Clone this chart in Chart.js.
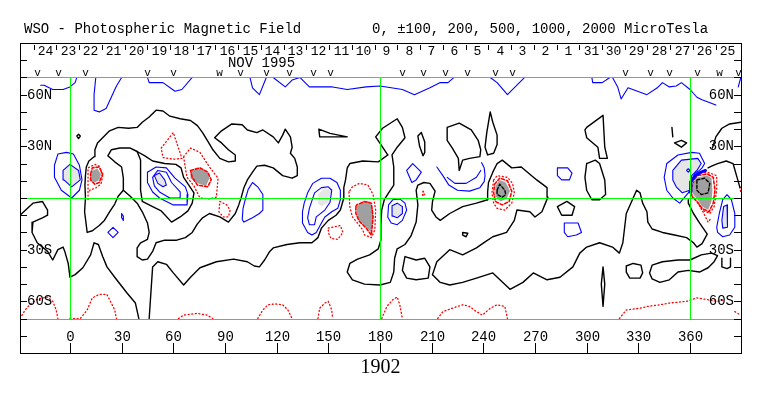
<!DOCTYPE html>
<html>
<head>
<meta charset="utf-8">
<title>WSO - Photospheric Magnetic Field</title>
<script src="https://cdn.jsdelivr.net/npm/chart.js@4.4.1/dist/chart.umd.min.js"></script>
<style>
html, body { margin: 0; padding: 0; background: #fff; }
#wso { display: block; }
</style>
</head>
<body>
<canvas id="wso" width="763" height="396"></canvas>
<script>
// WSO synoptic map, CR 1902: contours as [lon, lat, lon, lat, ...] (Carrington lon / latitude)

var LON_LABELS = [0, 30, 60, 90, 120, 150, 180, 210, 240, 270, 300, 330, 360];
var LAT_LABEL_VAL = [60, 30, -30, -60];
var LAT_LABEL_TXT = ["60N", "30N", "30S", "60S"];
var GRID_LAT = [70, 0, -70];
var GRID_LON = [0, 180, 360];

var DAY_NUM = [24, 23, 22, 21, 20, 19, 18, 17, 16, 15, 14, 13, 12, 11, 10, 9, 8, 7, 6, 5, 4, 3, 2, 1, 31, 30, 29, 28, 27, 26, 25];
var DAY_LON = [-14.5, -1.3, 11.9, 25.1, 38.3, 51.5, 64.7, 77.9, 91.1, 104.3, 117.5, 130.7, 143.9, 157.1, 170.3, 183.5,
               196.7, 209.9, 223.1, 236.3, 249.5, 262.7, 275.9, 289.1, 302.3, 315.5, 328.7, 341.9, 355.1, 368.3, 381.5];
var OBS_LON = [-19, -7, 9, 45, 60, 86.5, 99, 114, 127, 141, 151, 193, 205, 217.5, 230.5, 246.5, 256.5, 322, 337, 348, 364, 377, 388];
var OBS_MARK = ["v", "v", "v", "v", "v", "w", "v", "v", "v", "v", "v", "v", "v", "v", "v", "v", "v", "v", "v", "v", "v", "w", "v"];

// 中性線 (0)
var BLACK_LINES = [
    [9,0, 8.7,7.5, 9,13, 9.5,18, 11,21.5, 14,24, 14.5,28, 16,32, 19,35, 23,39, 28,41, 34,40.5, 39,41, 42,44, 46,47, 50,51,
     54,50.5, 58,47.5, 64,46, 70,45, 74,42, 77,38, 80,33, 83,28, 87,23, 92,21, 96,21.5, 96,25, 92,28, 88,32, 84,35, 88,39,
     94,43, 100,42.5, 103,39.5, 108.5,38, 112,39.5, 118,35.5, 121,32, 123.5,36.5, 125,40, 128,35.5, 129,29.5, 128,26,
     130.5,23, 132,18, 132,13, 129,11.5, 123.5,13, 118,17.5, 113,19, 108.5,18.5, 106,15, 103,10.5, 101,6, 99.5,0.5, 98,-4,
     96,-9, 92,-14, 87,-11, 81,-9, 77,-11.5, 74,-15, 71,-20, 67,-23, 62,-24.5, 55,-24.5, 50,-26, 48,-31, 45,-35.5, 42,-36,
     39,-34, 39,-29, 41,-26, 45,-24, 46,-20, 45,-14.5, 42,-8, 39,-3, 35,1, 31,4.5, 31,11.5, 30,18, 26,21, 22,24.5, 24,28,
     29,29, 35,29, 39,27],
    [9,0, 8.5,-8, 10,-20, 13,-19, 17,-16, 20,-13, 23,-8, 26,-3.5, 28,1, 31,4.5],
    [39,27, 41,22, 41,13, 41,4.5, 42,-2, 48,-5, 53,-7.5, 59,-14, 64,-11, 68.5,-7.5, 71,-3, 72,3, 69,7.5, 66,12, 64.5,17.5,
     61.5,19.5, 55,20, 48,21.5, 43.5,24.5, 39,27],
    [-29,-10, -21.5,-3, -16,-2, -13,-7, -13,-10, -16,-11.5, -21.5,-14, -22,-20, -19,-26, -13,-31, -10,-36, -7,-30, -4,-28.5,
     -3,-31, -1,-38, 0,-46, 3,-44.5, 7.5,-40.5, 12,-33, 14,-26, 16.5,-27, 19,-34, 21.5,-40, 26,-46, 33,-55, 38,-61, 40,-70],
    [46,-70, 48,-40, 51,-37, 56,-38.5, 60,-43.5, 66,-50.5, 70,-46, 75.5,-40.5, 85,-37, 95,-35.5, 103,-37, 107,-39.5, 110,-40,
     113,-36, 116,-31, 118,-29, 126,-27, 133.5,-26, 140.5,-26, 144,-23, 146,-17.5, 150,-13, 154.5,-10, 157,-7, 159,0, 159,6,
     160,10.5, 161,17.5, 162.5,20, 170,21.5, 179,21, 184.5,25],
    [184.5,25, 181.5,29.5, 177.5,35.5, 181.5,40.5, 190,46, 193,41, 194.5,35, 190,29.5, 187,25, 188,18, 188,7.5, 185,3,
     182.5,-1, 181,-7, 180.5,-15.5, 180.5,-24.5, 179,-29.5, 174,-33, 167,-35.5, 162.5,-38, 161,-43, 164,-47.5, 171,-50,
     180,-50.5, 186,-49, 188,-43, 188.5,-35, 190,-29.5, 194.5,-27, 198,-22, 201,-14, 202,-4, 201,4.5, 202,7.5, 205.5,9,
     209,8.5, 212,4, 210.5,-2, 210,-7, 212.5,-11, 215,-13, 220.5,-9, 228,-5, 236,-3, 242.5,-1],
    [193,-42, 194.5,-34, 201,-36, 206,-35, 209,-40, 208,-46.5, 201,-47.5, 195.5,-46.5, 193,-42],
    [210.5,-44.5, 213,-37, 220.5,-30, 228,-33, 236,-29, 241,-25.5, 245.5,-22.5, 253.5,-20, 258,-13, 259.5,-7, 267,-8, 270,-11,
     274,-8, 277.5,0.5, 277,6, 271,10.5, 262,18, 256.5,17.5, 251,22, 248,20, 245.5,15, 243,9, 242.5,3.5, 242.5,-1],
    [210.5,-44.5, 215,-49, 220.5,-50.5, 228,-49, 236,-46.5, 245.5,-43.5, 255.5,-53, 263,-49, 269,-43.5, 277,-47.5, 284.5,-46,
     292,-40, 296,-32, 300,-28.5, 307.5,-26, 315,-28.5, 319,-32, 321,-26, 323,-9, 327,0, 329,4.5, 331,3, 332.5,-3, 335,-8,
     335.5,-14, 338,-18, 344,-20, 351,-21.5, 358,-23, 362,-26, 364,-28.5, 367,-26.5, 370,-21, 365.5,-14.5, 362,-9, 359,-3, 359,-1],
    [370.5,17.5, 372.5,18.5, 376,20, 381,21.5, 385,20, 387,13, 389,6],
    [219,41, 226,43.5, 233,39.5, 237,33.5, 238.5,28, 238,24, 232,23, 228,22, 226,16, 225.5,23, 222,29, 219,33.5, 219,41],
    [204,38, 206,32.5, 206,26.5, 205,24.5, 203,30, 202,36, 204,38],
    [244,50, 245.5,44, 248,36.5, 248,31, 246,26, 242.5,25, 241,29.5, 242,38, 244,50],
    [144.5,40, 145,35.5, 161,35.5, 151,37.5, 144.5,40],
    [300,41, 309.5,48, 310.5,29.5, 312,23, 307.5,23, 306.5,29.5, 300,35, 299,39.5, 300,41],
    [300,20, 305,22, 307.5,20, 310.5,10.5, 311,2, 307.5,-1, 303,-1, 300,4.5, 299,12, 300,20],
    [283,-5, 288.5,-2, 293,-5, 291.5,-10, 285.5,-10, 283,-5],
    [309.5,-40, 310.5,-50, 309.5,-63, 308.5,-50, 309.5,-40],
    [323,-39.5, 327,-38, 331.5,-39, 332.5,-43.5, 331,-46.5, 325,-46.5, 323,-43, 323,-39.5],
    [336.5,-43.5, 338,-39, 344,-37, 353,-36, 360,-36, 366.5,-33, 372.5,-32, 376,-33.5, 374,-37, 370.5,-40.5, 365.5,-43,
     359,-42, 353,-43, 348,-47.5, 342.5,-49, 338,-47, 336.5,-43.5],
    [378.5,-35, 378.5,-40, 381.5,-41, 383.5,-40, 383.5,-35],
    [373,29, 375,35.5, 378.5,40.5, 383,43, 389.5,44],
    [349.5,41, 350,35.5],
    [351,32, 355,33.5, 358,32, 355,29.5, 351,32],
    [4,36, 5,37, 6,36, 5,34.5, 4,36],
    [228,-20, 231,-20.5, 230,-22.5, 228,-21.5, 228,-20]
];

// 正 (100, 200 ...)
var BLUE_LINES = [
    [-17,65.5, -15,65.5, -10,63, -4,63, 0,64.5, 3,67, 4,70],
    [15,70, 14,60, 14,51, 17,50, 21,52, 24,58.5, 27,65, 30,70],
    [45,70, 46,67, 54,67, 61,62, 65,63, 71,70],
    [104.5,70, 106,64, 110,60, 114,70],
    [118,70, 125,64.5, 129,68.5, 133.5,70, 139,64.5, 152.5,64.5, 161,63, 172,64.5, 180,65, 193,63, 200,60, 209,64, 215,67,
     219.5,67, 223,70],
    [244,70, 248,67, 254,60, 264,70],
    [303,70, 303.5,67, 309,67, 313.5,70],
    [315,70, 318,64.5, 320,57.5, 324,64, 335,60, 341,64, 344,67, 348,64.5, 352,65, 355,67, 360,63, 364,58.5, 367,57, 375,54],
    [388,64.5, 389.5,70],
    [-9,19, -7,25.5, -2,26.5, 2,25.5, 5.5,19, 7,10.5, 5.5,4.5, 1,0, -5,4.5, -9,12, -9,19],
    [-4,16, 0,19.5, 5,16, 6,10.5, 1,6.5, -3.5,10.5, -4,16],
    [45,15, 50,18, 56,17.5, 61,11.5, 67,6.5, 68.5,2, 68,-4, 60,-4, 52,0, 48,3.5, 45,9, 45,15],
    [48,12, 51,16, 56,15, 59,9, 64,3.5, 64,0, 58,0, 52,3.5, 49,7, 48,12],
    [49,13, 52,14.5, 55,10.5, 56,7.5, 54,6.5, 51,8.5, 49,13],
    [106,9, 109,6.5, 112,2, 112,-7, 110,-9, 106,-11.5, 101,-14, 100,-12.5, 100.5,-6, 102,0, 103.5,5, 106,9],
    [30,-9, 31,-10.5, 31,-13, 30,-11.5, 30,-9],
    [22,-20, 25,-17, 28,-20, 25,-23, 22,-20],
    [138,3, 141,8.5, 146,11.5, 151,11.5, 155,9, 157,4.5, 157,-1, 155.5,-6, 152,-8, 148,-11, 146,-14.5, 143,-20, 140.5,-21.5,
     138,-20, 135,-14.5, 135,-8, 136,-3, 138,3],
    [139,-6, 142,3, 146,6, 150,6.5, 152,4.5, 151,-2.5, 148,-7, 143,-11, 142,-15.5, 139,-15.5, 138,-11.5, 139,-6],
    [185,-4, 187.5,-1, 191.5,-0.5, 194.5,-3, 195.5,-7, 193,-13, 190,-15.5, 186.5,-14.5, 184.5,-11, 185,-4],
    [187,-4.5, 190,-3, 193,-5, 193,-9, 190,-11.5, 187.5,-10.5, 187,-4.5],
    [195.5,16, 199,20, 204,15, 201,10.5, 198.5,9, 195.5,16],
    [213,18, 216.5,13, 220,7.5, 225,4.5, 232,4, 238,6, 240.5,9.5, 241,13, 240.5,17.5, 239,20.5],
    [219,12, 223.5,8.5, 230,8.5, 236,12, 238.5,16],
    [283,17.5, 289,17.5, 291.5,14.5, 290,10.5, 285.5,10.5, 283,13, 283,17.5],
    [287,-14.5, 295,-14.5, 297,-20, 294,-21.5, 289,-22.5, 287,-20, 287,-14.5],
    [346.5,20, 353,25, 361,26.5, 365.5,26, 368.5,20, 367,17.5, 365.5,16, 363,14.5, 361,10.5, 360,4.5, 359,3, 354,-3, 350,0,
     346.5,4.5, 345,12, 346.5,20],
    [350,16, 355,22, 364.5,23, 366.5,20, 364,16, 361,13, 360,9, 360,4.5, 355.5,3, 352,6.5, 350,10.5, 350,16],
    [358,16, 359,17, 360,16, 359,15, 358,16],
    [375.5,-17, 377,-9, 379,-1, 381.5,2, 384,-1, 386,-9, 386,-17, 383,-21.5, 379,-22.5, 376,-20, 375.5,-17],
    [378.5,-13, 379.5,-5, 381.5,-4, 382,-9, 381.5,-17, 379,-17.5, 378.5,-13]
];
var BLUE_HEAVY = [
    [360,3.5, 360.5,9.5, 363,13, 366.5,15, 369,16]
];
var LIGHT_PATCHES = [
    [-4,16, 0,19.5, 5,16, 6,10.5, 1,6.5, -3.5,10.5, -4,16],
    [49,13, 52,14.5, 55,10.5, 56,7.5, 54,6.5, 51,8.5, 49,13],
    [144,2, 148,6, 152,4.5, 150,-2.5, 146,-5, 144,-3, 144,2],
    [187,-4.5, 190,-3, 193,-5, 193,-9, 190,-11.5, 187.5,-10.5, 187,-4.5],
    [350,16, 355,22, 364.5,23, 366.5,20, 364,16, 361,13, 360,9, 360,4.5, 355.5,3, 352,6.5, 350,10.5, 350,16],
    [378.5,-13, 379.5,-5, 381.5,-4, 382,-9, 381.5,-17, 379,-17.5, 378.5,-13]
];

// 負 (-100, -200 ...)
var RED_DOTTED = [
    [10.5,-1, 10.5,10.5, 10.5,17.5, 14.5,19.5, 17,18.5, 19,13, 18,8, 14.5,5.5, 12,5, 10.5,3],
    [53,29, 60,38, 62,32, 65,23, 60,22.5, 54,23.5, 53,29],
    [66,24, 70,29, 75.5,26.5, 81,18, 86,11.5, 85,0.5, 81,-0.5, 75.5,0, 72,7, 68,12, 67,17.5, 66,24],
    [87,-2, 91,-4, 93,-7, 92,-11, 89,-11, 86.5,-8, 87,-2],
    [162,3.5, 162.5,-5, 164,-11, 166.5,-14, 170,-18.5, 171,-21.5, 175,-23, 177,-18.5, 177.5,-7, 176,2, 173,7.5, 168,8.5, 164,6.5, 162,3.5],
    [150,-17.5, 157,-16, 158.5,-20, 155.5,-24, 151.5,-23.5, 150,-20, 150,-17.5],
    [205,4, 206,2.5, 205,1, 204.5,2.5, 205,4],
    [246,10.5, 248,13, 254,12, 257,8.5, 258,3, 256.5,-3, 252.5,-7, 248,-6, 246,-3, 245,3, 246,10.5],
    [360,3, 364,14.5, 370,15, 375.5,13, 375.5,4.5, 374,-5, 371.5,-9, 367,-7, 364,-2, 361,0.5, 360,3],
    [365.5,-4, 368.5,-10, 370.5,-14, 372,-12],
    [389,6.5, 389.5,3],
    [-29,-70, -26,-65, -23,-61.5, -18.5,-58.5, -13,-57.5, -10,-60, -8,-65, -7,-70],
    [0,-70, 6,-70, 10,-65, 13,-58, 17,-56, 21.5,-56, 24,-61, 26,-65, 27,-70],
    [63,-70, 66,-68, 74,-67, 79.5,-68, 83,-70],
    [109,-70, 112,-65, 115,-62, 119,-61.5, 123.5,-62, 126.5,-65, 129,-70],
    [144,-70, 145,-64, 148,-61, 150,-60, 152,-65, 152.5,-70],
    [181,-70, 184,-63, 187.5,-59, 190,-57.5, 191.5,-62, 193,-70],
    [213.5,-70, 216.5,-66, 222,-64, 228,-62, 232,-63, 236,-66, 239.5,-68, 244,-64, 248,-62, 252.5,-63, 254,-70],
    [319,-70, 323,-65, 331,-64, 335,-63, 342.5,-62, 348,-61, 358,-60, 364,-58, 370,-59, 375.5,-60, 380,-59],
    [386,-66, 389.5,-68]
];
var RED_DASHED = [
    [12,14, 13,17.5, 17,18, 19,14, 17,9, 14.5,8, 12,10.5, 12,14],
    [70,16, 75.5,17.5, 80,15, 82,10.5, 80,6.5, 74,7.5, 71,12, 70,16],
    [166,-5, 166.5,-4, 171,-2, 175,-3, 176,-11, 175,-21.5, 172,-17.5, 168,-13.5, 166,-9, 166,-5],
    [246.5,8, 249.5,11.5, 254,10, 256.5,4, 255,-2, 251,-4, 247,-2, 246,3, 246.5,8],
    [360.5,9, 364.5,13, 370,14, 373.5,12, 374.5,4.5, 373.5,-3, 371,-8, 367,-6, 364,-2, 361,1.5, 360.5,9]
];
var DARK_PATCHES = [
    [12,12, 13,16, 16,17, 18,14, 17,10.5, 14.5,9, 12,10.5, 12,12],
    [70,15, 74,17.5, 79.5,16, 81,11.5, 79,7, 74,8.5, 70,11.5, 70,15],
    [166.5,-5, 170,-2, 174,-2, 176,-7, 176,-13, 175,-20, 172,-17, 168,-13, 166.5,-9, 166.5,-5],
    [247,7, 249.5,10.5, 253,9, 255.5,4, 253.5,-0.5, 250,-2, 247,1, 247,7],
    [361,8.5, 364.5,12, 370,13, 372.5,11.5, 373,4.5, 372.5,-2, 370.5,-7, 367,-5, 364.5,-1, 362,2, 361,4.5, 361,8.5]
];
var BLACK_DASHED = [
    [248,4.5, 249.5,8, 252.5,4.5, 253,2, 251,0.5, 248,2, 248,4.5],
    [364,10.5, 368.5,11.5, 371.5,8.5, 370.5,3, 366.5,2, 364,4.5, 364,10.5]
];

(function () {
    "use strict";

    var MONO = "'Liberation Mono', 'DejaVu Sans Mono', monospace";

    function pts(flat) {
        var out = [];
        for (var i = 0; i < flat.length; i += 2) out.push({ x: flat[i], y: flat[i + 1] });
        return out;
    }
    function stroke(flat, color, width, dash) {
        return { data: pts(flat), borderColor: color, borderWidth: width, borderDash: dash || [],
                 fill: false, pointRadius: 0, tension: 0, order: 0,
                 borderCapStyle: "round", borderJoinStyle: "round" };
    }
    function patch(flat, color) {
        return { data: pts(flat), borderColor: "rgba(0,0,0,0)", borderWidth: 0, backgroundColor: color,
                 fill: "shape", pointRadius: 0, tension: 0, order: 5 };
    }

    var datasets = [];
    LIGHT_PATCHES.forEach(function (c) { datasets.push(patch(c, "#e6e6e6")); });
    DARK_PATCHES.forEach(function (c) { datasets.push(patch(c, "#a0a0a0")); });
    BLACK_LINES.forEach(function (c) { datasets.push(stroke(c, "#000000", 1.4)); });
    BLUE_LINES.forEach(function (c) { datasets.push(stroke(c, "#0000ff", 1.1)); });
    BLUE_HEAVY.forEach(function (c) { datasets.push(stroke(c, "#0000ff", 3)); });
    RED_DOTTED.forEach(function (c) { datasets.push(stroke(c, "#ff0000", 1.3, [1, 2.6])); });
    RED_DASHED.forEach(function (c) { datasets.push(stroke(c, "#ff0000", 1.6, [3, 2])); });
    BLACK_DASHED.forEach(function (c) { datasets.push(stroke(c, "#000000", 1.4, [3, 2])); });

    // 枠・目盛・見出し (スケール経由で配置)
    var overlay = {
        id: "wsoOverlay",
        afterDatasetsDraw: function (chart) {
            var ctx = chart.ctx, sx = chart.scales.x, sy = chart.scales.y, a = chart.chartArea;
            var X = function (v) { return Math.round(sx.getPixelForValue(v)) + 0.5; };
            var Y = function (v) { return Math.round(sy.getPixelForValue(v)) + 0.5; };
            ctx.save();

            ctx.lineWidth = 1;
            ctx.strokeStyle = "#00ff00";
            ctx.beginPath();
            GRID_LAT.forEach(function (lat) { ctx.moveTo(a.left, Y(lat)); ctx.lineTo(a.right, Y(lat)); });
            GRID_LON.forEach(function (lon) { ctx.moveTo(X(lon), Y(70)); ctx.lineTo(X(lon), Y(-70)); });
            ctx.stroke();

            ctx.strokeStyle = "#000";
            ctx.strokeRect(a.left + 0.5, a.top + 0.5, a.right - a.left, a.bottom - a.top);

            ctx.beginPath();
            for (var lat = -80; lat <= 80; lat += 10) {
                ctx.moveTo(a.left, Y(lat)); ctx.lineTo(a.left + 7, Y(lat));
                ctx.moveTo(a.right - 7, Y(lat)); ctx.lineTo(a.right, Y(lat));
            }
            LON_LABELS.forEach(function (lon) { ctx.moveTo(X(lon), a.bottom); ctx.lineTo(X(lon), a.bottom - 10); });
            DAY_LON.forEach(function (lon) { ctx.moveTo(X(lon - 6.6), a.top + 2); ctx.lineTo(X(lon - 6.6), a.top + 7); });
            ctx.stroke();

            ctx.fillStyle = "#000";
            ctx.font = "14px " + MONO;
            ctx.textBaseline = "middle";
            ctx.textAlign = "left";
            LAT_LABEL_VAL.forEach(function (v, i) { ctx.fillText(LAT_LABEL_TXT[i], a.left + 7, Y(v)); });
            ctx.textAlign = "right";
            LAT_LABEL_VAL.forEach(function (v, i) { ctx.fillText(LAT_LABEL_TXT[i], a.right - 7, Y(v)); });
            ctx.textAlign = "center";
            LON_LABELS.forEach(function (lon) { ctx.fillText(String(lon), X(lon), a.bottom - 16); });

            ctx.textBaseline = "alphabetic";
            ctx.font = "13px " + MONO;
            DAY_NUM.forEach(function (d, i) { ctx.fillText(String(d), X(DAY_LON[i]), a.top + 12); });
            ctx.font = "14px " + MONO;
            ctx.fillText("NOV 1995", X(111), a.top + 24);
            ctx.font = "11px " + MONO;
            OBS_LON.forEach(function (lon, i) { ctx.fillText(OBS_MARK[i], X(lon), Y(70) - 2); });

            ctx.textAlign = "left";
            ctx.font = "14px " + MONO;
            ctx.fillText("WSO - Photospheric Magnetic Field", 24, 33);
            ctx.fillText("0, \u00b1100, 200, 500, 1000, 2000 MicroTesla", 372, 33);

            ctx.textAlign = "center";
            ctx.font = "20px 'Liberation Serif', serif";
            ctx.fillText("1902", X(180), 373);
            ctx.restore();
        }
    };

    new Chart(document.getElementById("wso").getContext("2d"), {
        type: "line",
        data: { datasets: datasets },
        options: {
            responsive: false,
            devicePixelRatio: 1,
            animation: false,
            events: [],
            layout: { padding: { left: 20, right: 22, top: 43, bottom: 43 } },
            scales: {
                x: { type: "linear", min: -29, max: 389.6, display: false },
                y: { type: "linear", min: -90, max: 90, display: false }
            },
            plugins: { legend: { display: false }, tooltip: { enabled: false } }
        },
        plugins: [overlay]
    });
})();
</script>
</body>
</html>
